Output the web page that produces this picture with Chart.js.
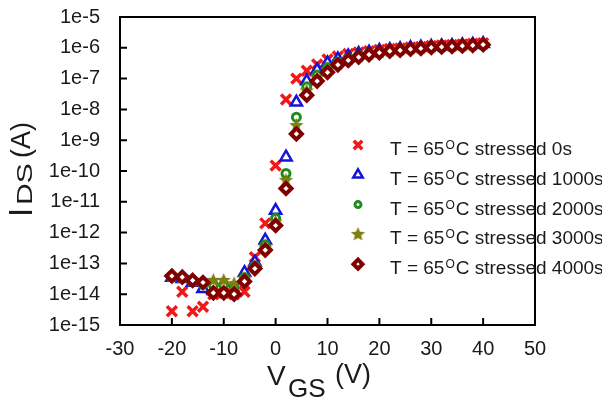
<!DOCTYPE html>
<html lang="en">
<head>
<meta charset="UTF-8" />
<title>IDS vs VGS</title>
<script src="https://cdn.jsdelivr.net/npm/chart.js"></script>
<style>
    body { margin: 0; background: #fff; }
    canvas { display: block; }
</style>
</head>
<body>
<canvas id="ivChart" width="602" height="399"></canvas>
<script>
// gate voltage (V), step 2 V
const vgs = [-20, -18, -16, -14, -12, -10, -8, -6, -4, -2, 0, 2, 4, 6, 8, 10,
    12, 14, 16, 18, 20, 22, 24, 26, 28, 30, 32, 34, 36, 38, 40];

// drain current (A) for each stress time
const ids0 = [2.8e-15, 1.2e-14, 2.8e-15, 3.9e-15, 1.0e-14, 1.1e-14, 1.0e-14, 1.2e-14, 1.6e-13, 2.0e-12,
    1.5e-10, 2.1e-8, 1.0e-7, 1.8e-7, 2.9e-7, 4.2e-7, 5.2e-7, 6.3e-7, 7.1e-7, 7.8e-7,
    8.5e-7, 9.1e-7, 9.5e-7, 1.02e-6, 1.07e-6, 1.15e-6, 1.2e-6, 1.23e-6, 1.29e-6, 1.35e-6, 1.41e-6];
const ids1000 = [3.5e-14, 3.2e-14, 2.4e-14, 1.5e-14, 1.3e-14, 1.3e-14, 1.2e-14, 5.0e-14, 1.1e-13, 5.6e-13,
    5.2e-12, 2.8e-10, 1.7e-8, 8.3e-8, 1.9e-7, 3.2e-7, 4.3e-7, 5.4e-7, 6.5e-7, 7.2e-7,
    8.1e-7, 8.7e-7, 9.3e-7, 1.0e-6, 1.05e-6, 1.1e-6, 1.15e-6, 1.17e-6, 1.23e-6, 1.29e-6, 1.35e-6];
const ids2000 = [3.7e-14, 3.4e-14, 2.6e-14, 2.1e-14, 2.0e-14, 2.0e-14, 1.8e-14, 3.5e-14, 8.3e-14, 4.0e-13,
    2.9e-12, 8.3e-11, 5.6e-9, 5.4e-8, 1.3e-7, 2.3e-7, 3.4e-7, 4.5e-7, 5.6e-7, 6.6e-7,
    7.4e-7, 8.1e-7, 8.7e-7, 9.5e-7, 1.0e-6, 1.05e-6, 1.1e-6, 1.12e-6, 1.17e-6, 1.23e-6, 1.29e-6];
const ids3000 = [3.8e-14, 3.5e-14, 2.8e-14, 2.5e-14, 2.8e-14, 2.8e-14, 2.2e-14, 3.2e-14, 7.6e-14, 3.2e-13,
    2.2e-12, 5.0e-11, 3.0e-9, 4.0e-8, 1.05e-7, 1.9e-7, 3.0e-7, 4.2e-7, 5.2e-7, 6.3e-7,
    7.1e-7, 7.9e-7, 8.5e-7, 9.3e-7, 9.8e-7, 1.05e-6, 1.1e-6, 1.12e-6, 1.17e-6, 1.23e-6, 1.29e-6];
const ids4000 = [3.9e-14, 3.6e-14, 2.8e-14, 2.4e-14, 1.1e-14, 1.1e-14, 1.0e-14, 2.6e-14, 6.8e-14, 2.7e-13,
    1.7e-12, 2.7e-11, 1.6e-9, 2.9e-8, 8.3e-8, 1.6e-7, 2.8e-7, 3.9e-7, 5.0e-7, 6.0e-7,
    6.9e-7, 7.8e-7, 8.3e-7, 9.1e-7, 9.5e-7, 1.02e-6, 1.07e-6, 1.10e-6, 1.15e-6, 1.20e-6, 1.26e-6];

const stressTimes = ['0s', '1000s', '2000s', '3000s', '4000s'];
const xTicks = [-30, -20, -10, 0, 10, 20, 30, 40, 50];
const yTicks = [1e-15, 1e-14, 1e-13, 1e-12, 1e-11, 1e-10, 1e-9, 1e-8, 1e-7, 1e-6, 1e-5];
const yTickLabels = ['1e-15', '1e-14', '1e-13', '1e-12', '1e-11', '1e-10', '1e-9', '1e-8', '1e-7', '1e-6', '1e-5'];

const FONT = "'Liberation Sans', Arial, sans-serif";

// filled five point star used for the 3000s series
function makeStar(r, color) {
    const c = document.createElement('canvas');
    const s = Math.ceil(r * 2 + 2);
    c.width = c.height = s;
    const g = c.getContext('2d');
    g.fillStyle = color;
    g.beginPath();
    for (let k = 0; k < 10; k++) {
        const rr = k % 2 ? r * 0.45 : r;
        const a = -Math.PI / 2 + k * Math.PI / 5;
        g.lineTo(s / 2 + rr * Math.cos(a), s / 2 + rr * Math.sin(a));
    }
    g.closePath();
    g.fill();
    return c;
}

const styles = [
    { pointStyle: 'crossRot', radius: 7, borderWidth: 3.5, border: '#f01818', bg: '#f01818' },
    { pointStyle: 'triangle', radius: 6.5, borderWidth: 2.5, border: '#1414dc', bg: '#ffffff' },
    { pointStyle: 'circle', radius: 4, borderWidth: 3, border: '#1e8c1e', bg: '#ffffff' },
    { pointStyle: makeStar(7.5, '#7f7f10'), radius: 7, borderWidth: 0, border: '#7f7f10', bg: '#7f7f10' },
    { pointStyle: 'rectRot', radius: 5.5, borderWidth: 4, border: '#800000', bg: '#ffffff' }
];

const series = [ids0, ids1000, ids2000, ids3000, ids4000];

const datasets = series.map((arr, i) => ({
    label: 'T = 65oC stressed ' + stressTimes[i],
    data: vgs.map((v, j) => ({ x: v, y: arr[j] })),
    pointStyle: styles[i].pointStyle,
    pointRadius: styles[i].radius,
    pointBorderWidth: styles[i].borderWidth,
    pointBorderColor: styles[i].border,
    pointBackgroundColor: styles[i].bg,
    order: 5 - i // later stress times drawn on top
}));

// box frame + inward ticks
const framePlugin = {
    id: 'framePlugin',
    beforeDatasetsDraw(chart) {
        const { ctx, chartArea: a, scales: { x, y } } = chart;
        ctx.save();
        ctx.strokeStyle = '#000';
        ctx.lineWidth = 2;
        ctx.strokeRect(a.left, a.top, a.right - a.left, a.bottom - a.top);
        ctx.beginPath();
        xTicks.forEach(v => {
            const px = x.getPixelForValue(v);
            ctx.moveTo(px, a.bottom);
            ctx.lineTo(px, a.bottom - 7);
        });
        yTicks.forEach(v => {
            const py = y.getPixelForValue(v);
            ctx.moveTo(a.left, py);
            ctx.lineTo(a.left + 7, py);
        });
        ctx.stroke();
        ctx.restore();
    }
};

// axis titles with subscripts, legend with superscript
const textPlugin = {
    id: 'textPlugin',
    afterDraw(chart) {
        const ctx = chart.ctx;
        ctx.save();
        ctx.fillStyle = '#1a1a1a';
        ctx.textBaseline = 'alphabetic';
        ctx.textAlign = 'left';

        // x title: V_GS (V)
        ctx.font = '28px ' + FONT;
        ctx.fillText('V', 267, 385);
        ctx.font = '26px ' + FONT;
        ctx.fillText('GS', 288, 397);
        ctx.font = '27px ' + FONT;
        ctx.fillText('(V)', 335, 383);

        // y title: I_DS (A), rotated
        ctx.save();
        ctx.translate(32, 217);
        ctx.rotate(-Math.PI / 2);
        ctx.font = '33px ' + FONT;
        ctx.fillText('I', 0, 0);
        ctx.save();
        ctx.translate(12, 0);
        ctx.scale(1, 0.72);
        ctx.font = '30px ' + FONT;
        ctx.fillText('DS', 0, 0);
        ctx.restore();
        ctx.font = '27px ' + FONT;
        ctx.fillText('(A)', 59, -2);
        ctx.restore();

        // legend
        const mx = 358, tx = 390, y0 = 145, dy = 29.8;
        stressTimes.forEach((t, i) => {
            const yy = y0 + i * dy;
            const s = styles[i];
            ctx.save();
            ctx.strokeStyle = s.border;
            ctx.fillStyle = s.bg;
            ctx.lineWidth = s.borderWidth;
            Chart.helpers.drawPoint(ctx, {
                pointStyle: s.pointStyle, radius: s.radius - 1, rotation: 0, borderWidth: s.borderWidth
            }, mx, yy);
            ctx.restore();

            const base = yy + 10;
            let cx = tx;
            ctx.font = '19px ' + FONT;
            ctx.fillText('T = 65', cx, base);
            cx += ctx.measureText('T = 65').width + 1;
            ctx.font = '12px ' + FONT;
            ctx.fillText('O', cx, base - 6);
            cx += ctx.measureText('O').width + 1;
            ctx.font = '19px ' + FONT;
            ctx.fillText('C stressed ' + t, cx, base);
        });
        ctx.restore();
    }
};

new Chart(document.getElementById('ivChart').getContext('2d'), {
    type: 'scatter',
    data: { datasets: datasets },
    options: {
        responsive: false,
        animation: false,
        events: [],
        layout: { padding: { left: 0, top: 17, right: 67, bottom: 0 } },
        plugins: {
            legend: { display: false },
            tooltip: { enabled: false }
        },
        scales: {
            x: {
                type: 'linear',
                min: -30,
                max: 50,
                afterFit: s => { s.height = 74; s.paddingLeft = 0; s.paddingRight = 0; },
                afterBuildTicks: s => { s.ticks = xTicks.map(v => ({ value: v })); },
                grid: { display: false, drawTicks: false },
                border: { display: false },
                ticks: {
                    color: '#1a1a1a',
                    padding: 12,
                    font: { family: FONT, size: 20 },
                    callback: v => String(v)
                }
            },
            y: {
                type: 'logarithmic',
                min: 1e-15,
                max: 1e-5,
                afterFit: s => { s.width = 120; s.paddingTop = 0; s.paddingBottom = 0; },
                afterBuildTicks: s => { s.ticks = yTicks.map(v => ({ value: v })); },
                grid: { display: false, drawTicks: false },
                border: { display: false },
                ticks: {
                    color: '#1a1a1a',
                    padding: 20,
                    font: { family: FONT, size: 20 },
                    callback: v => yTickLabels[yTicks.findIndex(t => Math.abs(Math.log10(t) - Math.log10(v)) < 1e-6)]
                }
            }
        }
    },
    plugins: [framePlugin, textPlugin]
});
</script>
</body>
</html>
